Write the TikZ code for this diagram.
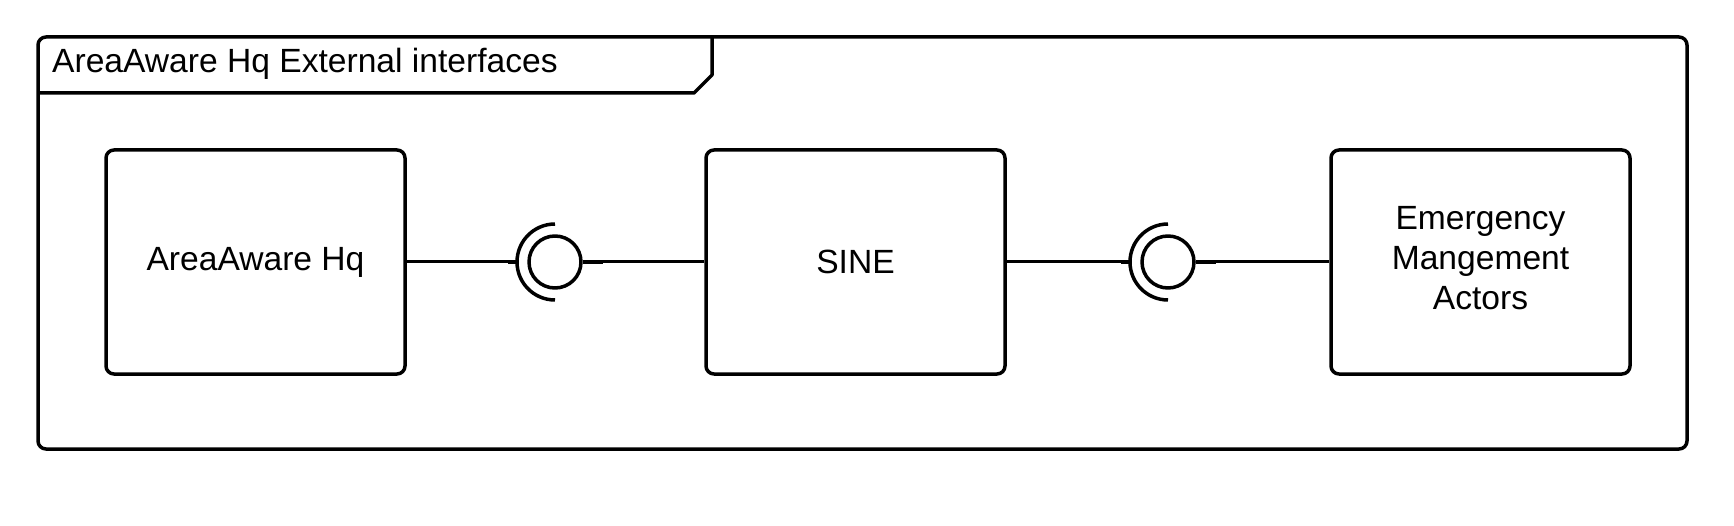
\documentclass[tikz,border=0pt]{standalone}
\usepackage{fontspec}
\setmainfont{Liberation Sans}
\begin{document}
\begin{tikzpicture}[x=1pt,y=-1pt,line join=round,
  lbl/.style={font=\fontsize{33.6}{40}\selectfont},
  box/.style={draw,line width=3.5pt,rounded corners=8pt,minimum width=299pt,minimum height=224pt,inner sep=0pt,align=center,lbl},
  conn/.style={line width=3pt},
  stub/.style={line width=3.8pt},
  ring/.style={line width=3.5pt},
  iface/.style={circle,draw,ring,minimum size=52pt,inner sep=0pt}]
\useasboundingbox (0,0) rectangle (1734,526);
% frame
\draw[line width=3.5pt,rounded corners=8pt] (38,37) rectangle (1687,449);
\draw[line width=3.5pt] (38,93) -- (694,93) -- (712,75) -- (712,37);
\node[lbl,anchor=base west,inner sep=0pt] (title) at (52,73) {AreaAware Hq External interfaces};
% components
\node[box] (hq) at (255.5,262) {AreaAware Hq};
\node[box] (sine) at (855.5,262) {SINE};
\node[box] (ema) at (1480.5,262) {};
\node[lbl,align=center] (emat) at (1480.5,258) {Emergency\\Mangement\\Actors};
% interfaces
\node[iface] (i1) at (555,262) {};
\node[iface] (i2) at (1168,262) {};
\draw[ring] (i1.center) ++(0,-38) arc[start angle=90,end angle=270,radius=38pt];
\draw[ring] (i2.center) ++(0,-38) arc[start angle=90,end angle=270,radius=38pt];
% connectors
\draw[conn] (hq.east) -- ([xshift=-38pt]i1.center);
\draw[stub] ([xshift=-47pt]i1.center) -- ([xshift=-37pt]i1.center);
\draw[conn] (i1.east) -- (sine.west);
\draw[stub] (i1.east) -- ++(20,0);
\draw[conn] (sine.east) -- ([xshift=-38pt]i2.center);
\draw[stub] ([xshift=-47pt]i2.center) -- ([xshift=-37pt]i2.center);
\draw[conn] (i2.east) -- (ema.west);
\draw[stub] (i2.east) -- ++(20,0);
\end{tikzpicture}
\end{document}
